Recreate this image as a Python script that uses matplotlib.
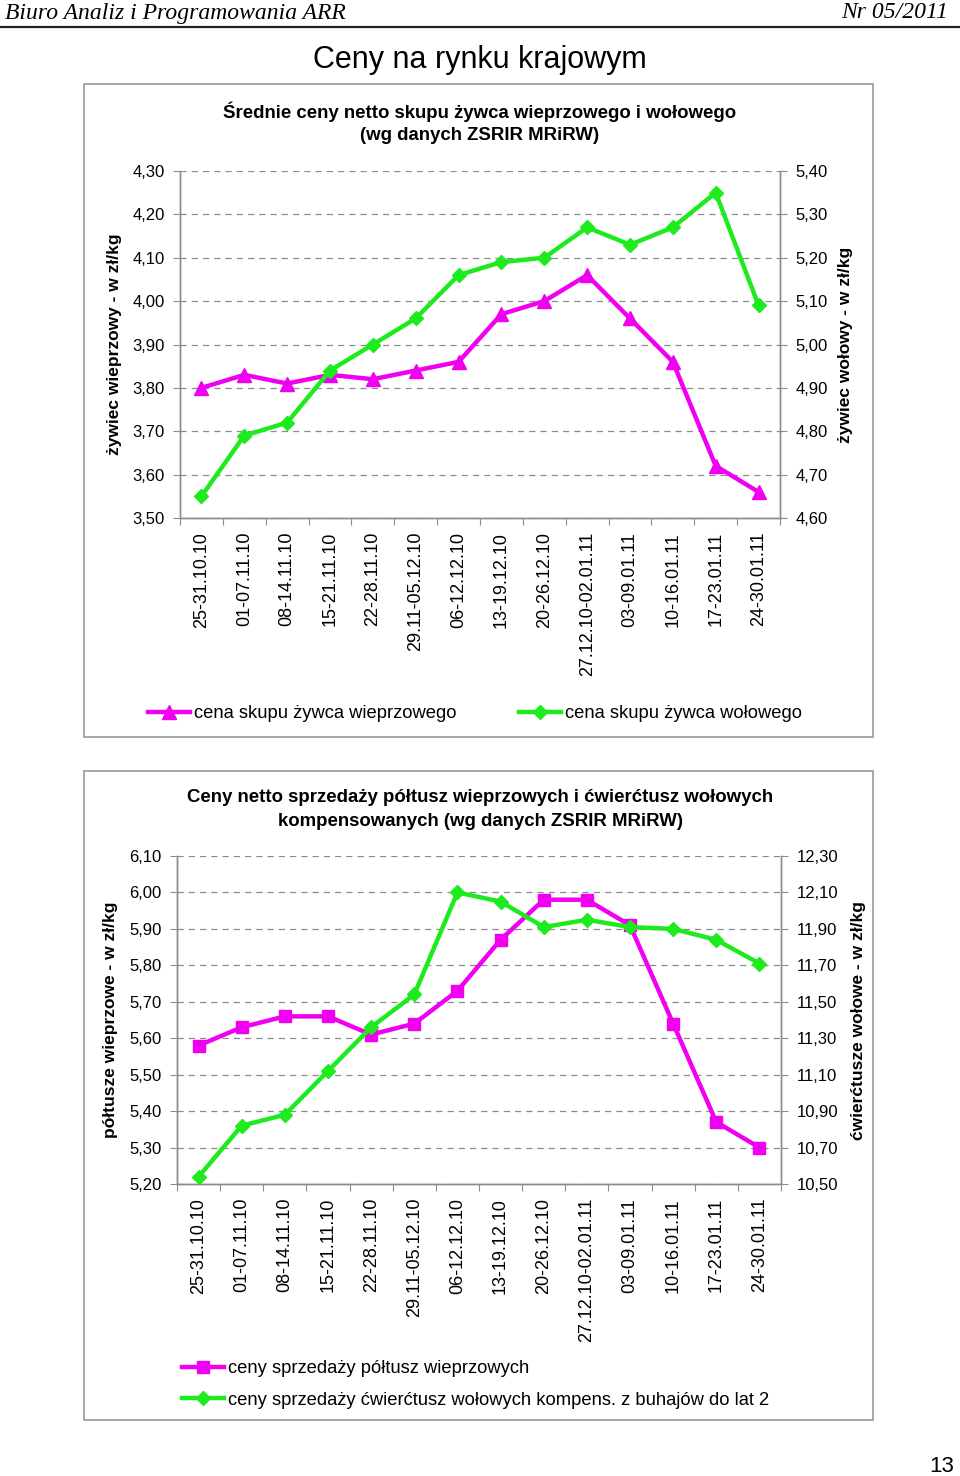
import numpy as np
import matplotlib
matplotlib.use("Agg")
import matplotlib.pyplot as plt
from matplotlib.patches import Rectangle
from matplotlib.lines import Line2D

plt.rcParams["font.family"] = ["Liberation Sans", "DejaVu Sans"]

W, H = 960, 1476

weeks = ["25-31.10.10", "01-07.11.10", "08-14.11.10", "15-21.11.10",
         "22-28.11.10", "29.11-05.12.10", "06-12.12.10", "13-19.12.10",
         "20-26.12.10", "27.12.10-02.01.11", "03-09.01.11", "10-16.01.11",
         "17-23.01.11", "24-30.01.11"]

# chart 1: live animals (zł/kg)
pork_live = [3.80, 3.83, 3.81, 3.83, 3.82, 3.84, 3.86, 3.97, 4.00, 4.06,
             3.96, 3.86, 3.62, 3.56]
beef_live = [4.65, 4.79, 4.82, 4.94, 5.00, 5.06, 5.16, 5.19, 5.20, 5.27,
             5.23, 5.27, 5.35, 5.09]

# chart 2: carcasses (zł/kg)
pork_half = [5.58, 5.63, 5.66, 5.66, 5.61, 5.64, 5.73, 5.87, 5.98, 5.98,
             5.91, 5.64, 5.37, 5.30]
beef_quarter = [10.54, 10.82, 10.88, 11.12, 11.36, 11.54, 12.10, 12.05,
                11.91, 11.95, 11.91, 11.90, 11.84, 11.71]

MAG = "#F000F0"
GRN = "#1EEB1E"
GRID = "#8c8c8c"


def px(x, y):
    return x / W, 1 - y / H


def comma(v, _=None):
    return f"{v:.2f}".replace(".", ",")


fig = plt.figure(figsize=(W / 100, H / 100), dpi=100)

# ── page header ─────────────────────────────────────────────────────────────
fig.text(*px(5, 13), "Biuro Analiz i Programowania ARR", family="Liberation Serif",
         style="italic", fontsize=17, ha="left", va="center")
fig.text(*px(948, 13), "Nr 05/2011", family="Liberation Serif",
         style="italic", fontsize=17, ha="right", va="center")
fig.add_artist(Line2D([0, 1], [1 - 27 / H] * 2, color="#222222", lw=1.6))
fig.text(*px(480, 60), "Ceny na rynku krajowym", fontsize=22, ha="center", va="center")
fig.text(*px(942, 1466), "13", fontsize=16, ha="center", va="center")


def box(y0, y1):
    x0, x1 = 84, 873
    fig.add_artist(Rectangle(px(x0, y1), (x1 - x0) / W, (y1 - y0) / H,
                             fill=False, ec="#a0a0a0", lw=1.3))


def make_chart(rect, ylim_l, ylim_r, step_l, step_r, left_vals, right_vals,
               left_marker, left_ms, lab_l, lab_r, lab_lx, lab_rx):
    ax = fig.add_axes(rect)
    ax2 = ax.twinx()
    x = np.arange(len(weeks)) + 0.5
    ax.set_xlim(0, len(weeks))
    ax.set_ylim(*ylim_l)
    ax2.set_ylim(*ylim_r)
    ax.set_yticks(np.arange(ylim_l[0], ylim_l[1] + 1e-6, step_l))
    ax2.set_yticks(np.arange(ylim_r[0], ylim_r[1] + 1e-6, step_r))
    ax.yaxis.set_major_formatter(comma)
    ax2.yaxis.set_major_formatter(comma)
    ax.set_xticks(np.arange(len(weeks) + 1))
    ax.set_xticklabels([])
    ax.set_xticks(x, minor=True)
    ax.set_xticklabels(weeks, minor=True, rotation=90, fontsize=13)
    ax.tick_params(axis="x", which="minor", length=0, pad=10)
    ax.tick_params(axis="x", which="major", length=5, color=GRID, direction="out")
    ax.tick_params(axis="y", length=5, color=GRID, labelsize=12, pad=6)
    ax2.tick_params(axis="y", length=5, color=GRID, labelsize=12, pad=6)
    ax.grid(axis="y", color=GRID, ls=(0, (5, 4)), lw=0.9)
    for a in (ax, ax2):
        a.spines["top"].set_visible(False)
        for s in ("left", "right", "bottom"):
            a.spines[s].set_color(GRID)
            a.spines[s].set_linewidth(1.0)
    ax.plot(x, left_vals, color=MAG, lw=3.2, marker=left_marker, ms=left_ms,
            clip_on=False, zorder=3)
    ax2.plot(x, right_vals, color=GRN, lw=3.2, marker="D", ms=7,
             clip_on=False, zorder=3)
    ax.set_ylabel(lab_l, fontsize=12.5, fontweight="bold")
    ax2.set_ylabel(lab_r, fontsize=12.5, fontweight="bold", rotation=90)
    ax.yaxis.set_label_coords(lab_lx, 0.5)
    ax2.yaxis.set_label_coords(lab_rx, 0.5)
    return ax, ax2


def legend_at(handles, labels, x, y, **kw):
    fig.legend(handles, labels, loc="upper left", bbox_to_anchor=px(x, y),
               frameon=False, fontsize=13.2, handlelength=2.3, handletextpad=0.2,
               borderpad=0, borderaxespad=0, **kw)


# ── chart 1 ─────────────────────────────────────────────────────────────────
box(84, 737)
fig.text(*px(480, 112), "Średnie ceny netto skupu żywca wieprzowego i wołowego",
         fontsize=13.4, fontweight="bold", ha="center", va="center")
fig.text(*px(480, 136), "(wg danych ZSRIR MRiRW)",
         fontsize=13.4, fontweight="bold", ha="center", va="center")
make_chart([180 / W, 1 - 518 / H, 600 / W, 347 / H], (3.50, 4.30), (4.60, 5.40),
           0.1, 0.1, pork_live, beef_live, "^", 10,
           "żywiec wieprzowy - w zł/kg", "żywiec wołowy - w zł/kg", -0.097, 1.097)

legend_at([Line2D([], [], color=MAG, lw=3.2, marker="^", ms=10)],
          ["cena skupu żywca wieprzowego"], 148, 705)
legend_at([Line2D([], [], color=GRN, lw=3.2, marker="D", ms=7)],
          ["cena skupu żywca wołowego"], 519, 705)

# ── chart 2 ─────────────────────────────────────────────────────────────────
box(771, 1420)
fig.text(*px(480, 798), "Ceny netto sprzedaży półtusz wieprzowych i ćwierćtusz wołowych",
         fontsize=13.4, fontweight="bold", ha="center", va="center")
fig.text(*px(480, 822), "kompensowanych (wg danych ZSRIR MRiRW)",
         fontsize=13.4, fontweight="bold", ha="center", va="center")
make_chart([177 / W, 1 - 1184 / H, 604 / W, 328 / H], (5.20, 6.10), (10.50, 12.30),
           0.1, 0.2, pork_half, beef_quarter, "s", 9,
           "półtusze wieprzowe - w zł/kg", "ćwierćtusze wołowe - w zł/kg", -0.098, 1.116)

legend_at([Line2D([], [], color=MAG, lw=3.2, marker="s", ms=9),
           Line2D([], [], color=GRN, lw=3.2, marker="D", ms=7)],
          ["ceny sprzedaży półtusz wieprzowych",
           "ceny sprzedaży ćwierćtusz wołowych kompens. z buhajów do lat 2"],
          182, 1360, labelspacing=0.8)

fig.savefig("out.png", dpi=100)
